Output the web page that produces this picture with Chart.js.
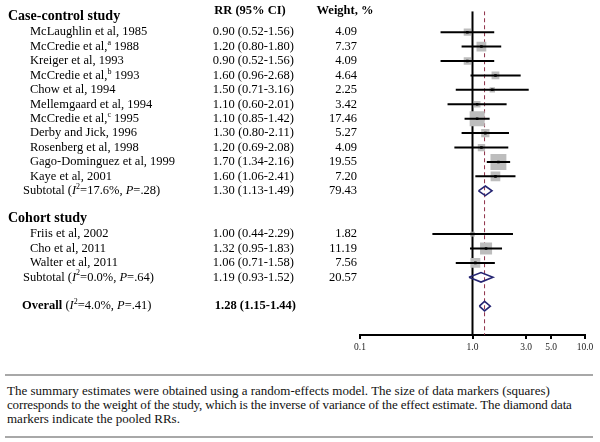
<!DOCTYPE html>
<html>
<head>
<meta charset="utf-8">
<script src="https://cdn.jsdelivr.net/npm/chart.js@4.4.1/dist/chart.umd.min.js"></script>
<style>
  html, body { margin: 0; padding: 0; background: #fff; }
  #wrap { position: relative; width: 600px; height: 442px; overflow: hidden; }
  #plot { position: absolute; left: 0; top: 0; width: 600px; height: 362px; }
  .rule { position: absolute; left: 5px; width: 588px; height: 2px; background: #a8a8a8; }
  #note { position: absolute; left: 7px; top: 384px; font: 13px/14px "Liberation Serif", serif; color: #111; white-space: nowrap; }
  #note span { display: block; }
</style>
</head>
<body>
<div id="wrap">
  <div id="plot"><canvas id="forest"></canvas></div>
  <div class="rule" style="top:374px"></div>
  <div id="note"><span>The summary estimates were obtained using a random-effects model. The size of data markers (squares)</span><span style="letter-spacing:-0.15px">corresponds to the weight of the study, which is the inverse of variance of the effect estimate. The diamond data</span><span>markers indicate the pooled RRs.</span></div>
  <div class="rule" style="top:436px"></div>
</div>
<script>
// case-control studies
const caseStudies = ['McLaughlin et al, 1985', 'McCredie et al, 1988', 'Kreiger et al, 1993', 'McCredie et al, 1993',
  'Chow et al, 1994', 'Mellemgaard et al, 1994', 'McCredie et al, 1995', 'Derby and Jick, 1996',
  'Rosenberg et al, 1998', 'Gago-Dominguez et al, 1999', 'Kaye et al, 2001'];
const caseSup = ['', 'a', '', 'b', '', '', 'c', '', '', '', ''];
const caseRR = [0.90, 1.20, 0.90, 1.60, 1.50, 1.10, 1.10, 1.30, 1.20, 1.70, 1.60];
const caseLow = [0.52, 0.80, 0.52, 0.96, 0.71, 0.60, 0.85, 0.80, 0.69, 1.34, 1.06];
const caseHigh = [1.56, 1.80, 1.56, 2.68, 3.16, 2.01, 1.42, 2.11, 2.08, 2.16, 2.41];
const caseWeight = [4.09, 7.37, 4.09, 4.64, 2.25, 3.42, 17.46, 5.27, 4.09, 19.55, 7.20];

// cohort studies
const cohortStudies = ['Friis et al, 2002', 'Cho et al, 2011', 'Walter et al, 2011'];
const cohortSup = ['', '', ''];
const cohortRR = [1.00, 1.32, 1.06];
const cohortLow = [0.44, 0.95, 0.71];
const cohortHigh = [2.29, 1.83, 1.58];
const cohortWeight = [1.82, 11.19, 7.56];

// pooled estimates
const subtotalRR = [1.30, 1.19];
const subtotalLow = [1.13, 0.93];
const subtotalHigh = [1.49, 1.52];
const subtotalWeight = [79.43, 20.57];
const subtotalI2 = ['17.6', '0.0'];
const subtotalP = ['.28', '.64'];
const overallRR = 1.28, overallLow = 1.15, overallHigh = 1.44;
const overallI2 = '4.0', overallP = '.41';

const tickValues = [0.1, 1, 3, 5, 10];
const tickLabels = ['0.1', '1.0', '3.0', '5.0', '10.0'];

const groups = [
  { title: 'Case-control study', names: caseStudies, sup: caseSup, rr: caseRR, lo: caseLow, hi: caseHigh, w: caseWeight },
  { title: 'Cohort study', names: cohortStudies, sup: cohortSup, rr: cohortRR, lo: cohortLow, hi: cohortHigh, w: cohortWeight }
];

// lay rows out: study rows are 1 unit apart, header sits just above
const textRows = [];
const boxes = [];
const ciSets = [];
const diamonds = [];
let row = 0;
groups.forEach((g, gi) => {
  textRows.push({ y: row - 1.1, x: 8, parts: [{ t: g.title, b: true, size: 14 }] });
  g.names.forEach((name, i) => {
    let parts;
    if (g.sup[i]) {
      const k = name.lastIndexOf(', ');
      parts = [{ t: name.slice(0, k + 1) }, { t: g.sup[i], sup: true }, { t: name.slice(k + 1) }];
    } else {
      parts = [{ t: name }];
    }
    textRows.push({ y: row, x: 30, parts: parts, rr: [g.rr[i], g.lo[i], g.hi[i]], w: g.w[i] });
    boxes.push({ x: g.rr[i], y: row, w: g.w[i] });
    ciSets.push([{ x: g.lo[i], y: row }, { x: g.hi[i], y: row }]);
    row++;
  });
  textRows.push({ y: row, x: 23, parts: [{ t: 'Subtotal (' }, { t: 'I', i: true }, { t: '2', sup: true },
    { t: '=' + subtotalI2[gi] + '%, ' }, { t: 'P', i: true }, { t: '=' + subtotalP[gi] + ')' }],
    rr: [subtotalRR[gi], subtotalLow[gi], subtotalHigh[gi]], w: subtotalWeight[gi] });
  diamonds.push({ y: row, rr: subtotalRR[gi], lo: subtotalLow[gi], hi: subtotalHigh[gi] });
  row += 3;
});
const overallRow = row - 1;
textRows.push({ y: overallRow, x: 22, parts: [{ t: 'Overall', b: true }, { t: ' (' }, { t: 'I', i: true }, { t: '2', sup: true },
  { t: '=' + overallI2 + '%, ' }, { t: 'P', i: true }, { t: '=' + overallP + ')' }],
  rr: [overallRR, overallLow, overallHigh], boldRR: true });
diamonds.push({ y: overallRow, rr: overallRR, lo: overallLow, hi: overallHigh });

const yTop = -1.45, yBottom = 21;
const dh = 0.33;

function fontOf(p) {
  return (p.i ? 'italic ' : '') + (p.b ? 'bold ' : '') + (p.sup ? 8 : (p.size || 12.5)) + 'px "Liberation Serif", serif';
}
function drawRich(ctx, parts, x, y, align) {
  let total = 0;
  parts.forEach(p => { ctx.font = fontOf(p); total += ctx.measureText(p.t).width; });
  let cx = align === 'right' ? x - total : align === 'center' ? x - total / 2 : x;
  parts.forEach(p => {
    ctx.font = fontOf(p);
    ctx.fillText(p.t, cx, p.sup ? y - 4 : y);
    cx += ctx.measureText(p.t).width;
  });
}

const tablePlugin = {
  id: 'forestTable',
  afterDraw(chart) {
    const ctx = chart.ctx;
    const ys = chart.scales.y;
    ctx.save();
    ctx.fillStyle = '#000';
    ctx.textAlign = 'left';
    ctx.textBaseline = 'middle';
    const hy = ys.getPixelForValue(yTop);
    drawRich(ctx, [{ t: 'RR (95% CI)', b: true }], 250, hy, 'center');
    drawRich(ctx, [{ t: 'Weight, %', b: true }], 345, hy, 'center');
    textRows.forEach(r => {
      const py = ys.getPixelForValue(r.y);
      drawRich(ctx, r.parts, r.x, py, 'left');
      if (r.rr) {
        const s = r.rr[0].toFixed(2) + ' (' + r.rr[1].toFixed(2) + '-' + r.rr[2].toFixed(2) + ')';
        drawRich(ctx, [{ t: s, b: !!r.boldRR }], r.boldRR ? 296 : 294, py, 'right');
      }
      if (r.w !== undefined) {
        drawRich(ctx, [{ t: r.w.toFixed(2) }], 357, py, 'right');
      }
    });
    ctx.restore();
  }
};

const lineDefaults = { type: 'line', showLine: true, pointRadius: 0, tension: 0, fill: false };

const datasets = [];
datasets.push(Object.assign({}, lineDefaults, {
  data: [{ x: 1, y: yTop }, { x: 1, y: yBottom }], borderColor: '#000', borderWidth: 2, order: 10
}));
datasets.push(Object.assign({}, lineDefaults, {
  data: [{ x: overallRR, y: yTop }, { x: overallRR, y: yBottom }], borderColor: '#8e3048', borderWidth: 1,
  borderDash: [4, 3], order: 9
}));
datasets.push({
  type: 'scatter', data: boxes, pointStyle: 'rect', backgroundColor: '#bdbdbd', borderWidth: 0,
  pointRadius: c => 3.6 * Math.sqrt(c.raw.w) / Math.SQRT2, order: 8
});
ciSets.forEach(d => datasets.push(Object.assign({}, lineDefaults, {
  data: d, borderColor: '#000', borderWidth: 2, order: 6
})));
diamonds.forEach(d => datasets.push(Object.assign({}, lineDefaults, {
  data: [{ x: d.lo, y: d.y }, { x: d.rr, y: d.y - dh }, { x: d.hi, y: d.y }, { x: d.rr, y: d.y + dh }, { x: d.lo, y: d.y }],
  borderColor: '#262673', borderWidth: 1.6, borderJoinStyle: 'miter', order: 4
})));
datasets.push({
  type: 'scatter', data: boxes, pointStyle: 'rect', backgroundColor: '#000', borderWidth: 0,
  pointRadius: 1.8, order: 2
});

new Chart(document.getElementById('forest'), {
  type: 'scatter',
  data: { datasets: datasets },
  options: {
    responsive: true,
    maintainAspectRatio: false,
    animation: false,
    layout: { padding: { left: 360, right: 15, top: 10, bottom: 2 } },
    plugins: { legend: { display: false }, tooltip: { enabled: false } },
    scales: {
      x: {
        type: 'logarithmic', position: 'bottom', min: 0.1, max: 10,
        afterBuildTicks: s => { s.ticks = tickValues.map(v => ({ value: v })); },
        afterFit: s => { s.height = 25; },
        ticks: {
          callback: (v, i) => tickLabels[i], color: '#222', autoSkip: false, maxRotation: 0,
          padding: 3, font: { family: 'Liberation Serif', size: 9.5 }
        },
        grid: { drawOnChartArea: false, drawTicks: true, tickLength: 4, color: '#000', lineWidth: 2 },
        border: { display: true, color: '#000', width: 2 }
      },
      y: { type: 'linear', display: false, reverse: true, min: yTop, max: yBottom }
    }
  },
  plugins: [tablePlugin]
});
</script>
</body>
</html>
